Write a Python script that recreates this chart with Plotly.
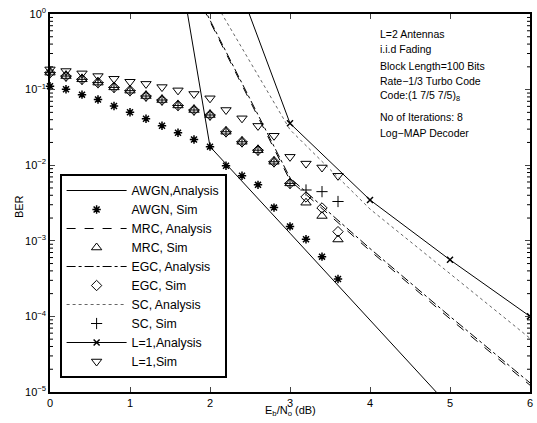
import plotly.graph_objects as go

# ---------------- data ----------------
x_sim = [0.0, 0.2, 0.4, 0.6, 0.8, 1.0, 1.2, 1.4, 1.6, 1.8,
         2.0, 2.2, 2.4, 2.6, 2.8, 3.0, 3.2, 3.4, 3.6]

awgn_sim = [0.111, 0.101, 0.0857, 0.0741, 0.0607, 0.0501, 0.0412, 0.0333, 0.0269, 0.0219,
            0.0176, 0.00984, 0.00724, 0.0055, 0.00275, 0.00155, 0.00105, 0.000617, 0.000313]
mrc_sim = [0.1675, 0.151, 0.1368, 0.1236, 0.107, 0.0968, 0.0822, 0.0728, 0.0617, 0.0537,
           0.0461, 0.0277, 0.0204, 0.0158, 0.0111, 0.00575, 0.00319, 0.00213, 0.00104]
egc_sim = [0.1675, 0.151, 0.1368, 0.1236, 0.107, 0.0968, 0.0822, 0.0728, 0.0617, 0.0537,
           0.0461, 0.0277, 0.0204, 0.0158, 0.0111, 0.00575, 0.0038, 0.00272, 0.00132]
sc_sim = [0.1675, 0.151, 0.1368, 0.1236, 0.107, 0.0968, 0.0822, 0.0728, 0.0617, 0.0537,
          0.0461, 0.0277, 0.0204, 0.0158, 0.0111, 0.00575, 0.0047, 0.00447, 0.00331]
l1_sim = [0.185, 0.176, 0.164, 0.151, 0.139, 0.127, 0.119, 0.108, 0.0977, 0.0875,
          0.0767, 0.0537, 0.0417, 0.0331, 0.0245, 0.0129, 0.0105, 0.00933, 0.00724]

x_an = [1, 2, 3, 4, 5, 6]
awgn_an = [3.2e4, 0.0176, 1.26e-3, 8.9e-5, 6.3e-6, 4.5e-7]
mrc_an = [100.0, 0.78, 6.3e-3, 7.4e-4, 9.3e-5, 1.23e-5]
egc_an = [110.0, 0.83, 6.8e-3, 7.9e-4, 1.0e-4, 1.32e-5]
sc_an = [117.0, 1.86, 0.0295, 2.63e-3, 3.63e-4, 5.13e-5]
l1_an = [1.7e4, 24.5, 0.0358, 3.47e-3, 5.6e-4, 1.0e-4]

y_tickvals = [1e-5, 1e-4, 1e-3, 1e-2, 1e-1, 1]
y_ticktext = ["10<sup>−5</sup>", "10<sup>−4</sup>", "10<sup>−3</sup>",
              "10<sup>−2</sup>", "10<sup>−1</sup>", "10<sup>0</sup>"]
x_tickvals = [0, 1, 2, 3, 4, 5, 6]
minor_y = [m * 10.0 ** k for k in range(-5, 0) for m in range(2, 10)]

info_lines = ["L=2 Antennas", "i.i.d Fading", "Block Length=100 Bits",
              "Rate−1/3 Turbo Code", "Code:(1 7/5 7/5)<sub>8</sub>",
              "No of Iterations: 8", "Log−MAP Decoder"]

# ---------------- figure ----------------
FONT = "Liberation Sans, Arial, sans-serif"
fig = go.Figure()

fig.add_trace(go.Scatter(x=x_an, y=awgn_an, mode="lines", name="AWGN,Analysis",
                         line=dict(color="black", width=1)))
fig.add_trace(go.Scatter(x=x_sim, y=awgn_sim, mode="markers", name="AWGN, Sim",
                         cliponaxis=False,
                         marker=dict(symbol="asterisk-open", size=7, color="black",
                                     line=dict(color="black", width=1.5))))
fig.add_trace(go.Scatter(x=x_an, y=mrc_an, mode="lines", name="MRC, Analysis",
                         line=dict(color="black", width=1, dash="dash")))
fig.add_trace(go.Scatter(x=x_sim, y=mrc_sim, mode="markers", name="MRC, Sim",
                         cliponaxis=False,
                         marker=dict(symbol="triangle-up-open", size=9, color="black",
                                     line=dict(color="black", width=1))))
fig.add_trace(go.Scatter(x=x_an, y=egc_an, mode="lines", name="EGC, Analysis",
                         line=dict(color="black", width=1, dash="dashdot")))
fig.add_trace(go.Scatter(x=x_sim, y=egc_sim, mode="markers", name="EGC, Sim",
                         cliponaxis=False,
                         marker=dict(symbol="diamond-open", size=8, color="black",
                                     line=dict(color="black", width=1))))
fig.add_trace(go.Scatter(x=x_an, y=sc_an, mode="lines", name="SC, Analysis",
                         line=dict(color="#666666", width=1, dash="dot")))
fig.add_trace(go.Scatter(x=x_sim, y=sc_sim, mode="markers", name="SC, Sim",
                         cliponaxis=False,
                         marker=dict(symbol="cross-thin-open", size=8, color="black",
                                     line=dict(color="black", width=1))))
fig.add_trace(go.Scatter(x=x_an, y=l1_an, mode="lines+markers", name="L=1,Analysis",
                         line=dict(color="black", width=1),
                         marker=dict(symbol="x-thin-open", size=6, color="black",
                                     line=dict(color="black", width=1.5))))
fig.add_trace(go.Scatter(x=x_sim, y=l1_sim, mode="markers", name="L=1,Sim",
                         cliponaxis=False,
                         marker=dict(symbol="triangle-down-open", size=9, color="black",
                                     line=dict(color="black", width=1))))

fig.update_layout(
    width=537, height=423,
    margin=dict(l=50, r=7, t=14, b=31),
    paper_bgcolor="white", plot_bgcolor="white",
    font=dict(family=FONT, size=11, color="black"),
    showlegend=True,
    legend=dict(x=0.02, y=0.037, xanchor="left", yanchor="bottom",
                bgcolor="white", bordercolor="black", borderwidth=2,
                font=dict(family=FONT, size=12.3, color="black"),
                itemwidth=60, tracegroupgap=0),
    xaxis=dict(range=[0, 6], tickvals=x_tickvals, ticks="inside", ticklen=5,
               showline=True, linecolor="black", linewidth=1.5, mirror="ticks",
               showgrid=False, zeroline=False, tickfont=dict(size=11),
               automargin=False),
    yaxis=dict(type="log", range=[-5, 0], tickvals=y_tickvals, ticktext=y_ticktext,
               ticks="inside", ticklen=5, showline=True, linecolor="black",
               linewidth=1.5, mirror="ticks", showgrid=False, zeroline=False,
               tickfont=dict(size=11), automargin=False),
)

# minor log ticks on the left and right axis lines
for v in minor_y:
    for anchor, (a, b) in ((0, (0, 3)), (1, (-3, 0))):
        fig.add_shape(type="line", xref="paper", yref="y", xsizemode="pixel",
                      xanchor=anchor, x0=a, x1=b, y0=v, y1=v,
                      line=dict(color="black", width=1))

# axis titles
fig.add_annotation(text="E<sub>b</sub>/N<sub>o</sub> (dB)", xref="paper", yref="paper",
                   x=0.5, y=-0.051, showarrow=False, xanchor="center", yanchor="middle",
                   font=dict(family=FONT, size=11))
fig.add_annotation(text="BER", xref="paper", yref="paper", x=-0.066, y=0.49,
                   textangle=-90, showarrow=False, xanchor="center", yanchor="middle",
                   font=dict(family=FONT, size=11))

# info text
info_y_px = [33.5, 48.5, 65.5, 81.0, 96.0, 116.5, 132.5]
for txt, ypx in zip(info_lines, info_y_px):
    fig.add_annotation(text=txt, xref="paper", yref="paper",
                       x=0.683, y=1 - (ypx - 14) / 378.0, showarrow=False,
                       xanchor="left", yanchor="middle",
                       font=dict(family=FONT, size=10.5))

fig.write_html("out.html",
               config={"displayModeBar": False},
               post_script="document.body.style.margin='0';document.body.style.overflow='hidden';")
